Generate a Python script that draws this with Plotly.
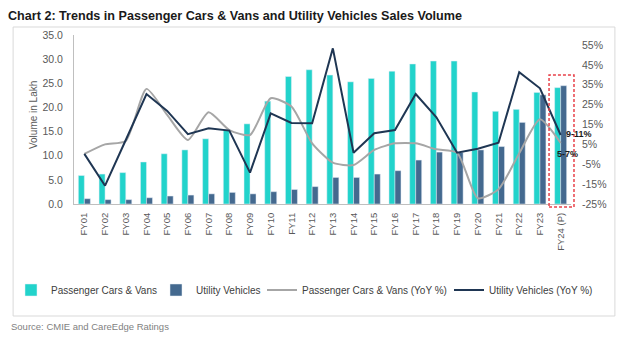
import plotly.graph_objects as go

years = ["FY01", "FY02", "FY03", "FY04", "FY05", "FY06", "FY07", "FY08", "FY09", "FY10",
         "FY11", "FY12", "FY13", "FY14", "FY15", "FY16", "FY17", "FY18", "FY19", "FY20",
         "FY21", "FY22", "FY23", "FY24 (P)"]

pc_volume = [5.9, 6.2, 6.5, 8.7, 10.4, 11.2, 13.5, 15.4, 16.6, 21.3,
             26.4, 27.8, 26.7, 25.3, 26.0, 27.5, 29.0, 29.6, 29.6, 23.2,
             19.2, 19.6, 23.1, 24.1]

uv_volume = [1.1, 0.9, 0.9, 1.3, 1.65, 1.85, 2.1, 2.4, 2.1, 2.55,
             3.0, 3.6, 5.5, 5.5, 6.2, 6.9, 9.1, 10.75, 10.7, 11.2,
             11.9, 16.9, 22.6, 24.5]

pc_yoy = [0.2, 5.0, 6.7, 32.9, 19.8, 7.2, 21.1, 12.2, 9.7, 28.2,
          24.0, 5.5, -4.2, -5.4, 2.2, 5.5, 5.5, 2.5, 0.8, -22.1,
          -17.6, 0.5, 17.6, 5.7]

uv_yoy = [0.2, -15.8, 7.2, 30.3, 21.8, 10.1, 13.1, 11.9, -9.2, 20.6,
          15.8, 15.6, 53.3, 0.8, 10.6, 12.2, 30.3, 18.6, 0.8, 2.8,
          5.8, 41.3, 33.2, 9.7]

left_ticks = [0, 5, 10, 15, 20, 25, 30, 35]
right_ticks = [-25, -15, -5, 5, 15, 25, 35, 45, 55]
right_labels = [f"{v}%" for v in right_ticks]

FONT = "Liberation Sans"
TXT = "#595959"

# plot area geometry (px)
L, R, T, B = 73, 571, 35, 204
W, H = 620, 348

def px(xp):
    return (xp - L) / (R - L)

def py(yp):
    return (B - yp) / (B - T)

fig = go.Figure()
fig.add_trace(go.Bar(x=years, y=pc_volume, name="Passenger Cars & Vans",
                     marker_color="#22D3CB", yaxis="y", legend="legend"))
fig.add_trace(go.Bar(x=years, y=uv_volume, name="Utility Vehicles",
                     marker_color="#44698F", yaxis="y", legend="legend2"))
fig.add_trace(go.Scatter(x=years, y=pc_yoy, name="Passenger Cars & Vans (YoY %)",
                         mode="lines", line=dict(color="#A6A6A6", width=2, shape="spline", smoothing=0.6),
                         yaxis="y2", legend="legend3"))
fig.add_trace(go.Scatter(x=years, y=uv_yoy, name="Utility Vehicles (YoY %)",
                         mode="lines", line=dict(color="#1F3653", width=2),
                         yaxis="y2", legend="legend4"))

def leg(xpix):
    return dict(orientation="h", x=px(xpix), xanchor="left", y=py(290), yanchor="middle",
                font=dict(size=10, color="#404040"), itemwidth=30,
                bgcolor="rgba(0,0,0,0)", borderwidth=0)

fig.update_layout(
    width=W, height=H,
    margin=dict(l=L, r=W - R, t=T, b=H - B),
    paper_bgcolor="white", plot_bgcolor="white",
    font=dict(family=FONT, size=10, color=TXT),
    barmode="group", bargap=0.42, bargroupgap=0,
    showlegend=True,
    legend=leg(11), legend2=leg(156), legend3=leg(262), legend4=leg(449),
    title=dict(text="<b>Chart 2: Trends in Passenger Cars & Vans and Utility Vehicles Sales Volume</b>",
               x=8 / W, xanchor="left", xref="container", y=1 - 16 / H, yanchor="middle",
               yref="container", font=dict(family=FONT, size=12.6, color="#1a1a1a")),
    xaxis=dict(type="category", tickangle=-90, showline=True, linecolor="#BFBFBF", linewidth=1,
               ticks="", showgrid=False, tickfont=dict(size=9.5, color=TXT), ticklabelstandoff=4),
    yaxis=dict(range=[0, 35], tickvals=left_ticks, tickformat=".1f", showline=True,
               linecolor="#BFBFBF", linewidth=1, ticks="", showgrid=False, zeroline=False,
               tickfont=dict(size=10.5, color=TXT), ticklabelstandoff=8),
    yaxis2=dict(range=[-25, 60], tickvals=right_ticks, ticktext=right_labels, overlaying="y",
                side="right", showline=False, ticks="", showgrid=False, zeroline=False,
                tickfont=dict(size=10.5, color=TXT), ticklabelstandoff=10),
)

shapes = [
    dict(type="rect", xref="paper", yref="paper", x0=px(12), x1=px(615), y0=py(316), y1=py(27),
         line=dict(color="#D9D9D9", width=1), fillcolor="rgba(0,0,0,0)", layer="below"),
    dict(type="rect", xref="paper", yref="paper", x0=px(549), x1=px(574), y0=py(207), y1=py(75),
         line=dict(color="#E8424A", width=1.5, dash="3px,2px"), fillcolor="rgba(0,0,0,0)"),
]
fig.update_layout(shapes=shapes)

fig.add_annotation(text="Volume in Lakh", xref="paper", yref="paper", x=px(32), y=py(115),
                   xanchor="center", yanchor="middle",
                   textangle=-90, showarrow=False, font=dict(size=10, color=TXT))
fig.add_annotation(text="<b>9-11%</b>", xref="paper", yref="paper", x=px(579.5), y=py(134),
                   xanchor="center", yanchor="middle",
                   showarrow=False, font=dict(size=9, color="#1a1a1a"))
fig.add_annotation(text="<b>5-7%</b>", xref="paper", yref="paper", x=px(567.5), y=py(154),
                   xanchor="center", yanchor="middle",
                   showarrow=False, font=dict(size=9, color="#1a1a1a"))
fig.add_annotation(text="Source: CMIE and CareEdge Ratings", xref="paper", yref="paper",
                   x=px(8), y=py(326), xanchor="left", yanchor="middle", showarrow=False,
                   font=dict(size=9.5, color="#7F7F7F"))

fig.write_html("out.html")
